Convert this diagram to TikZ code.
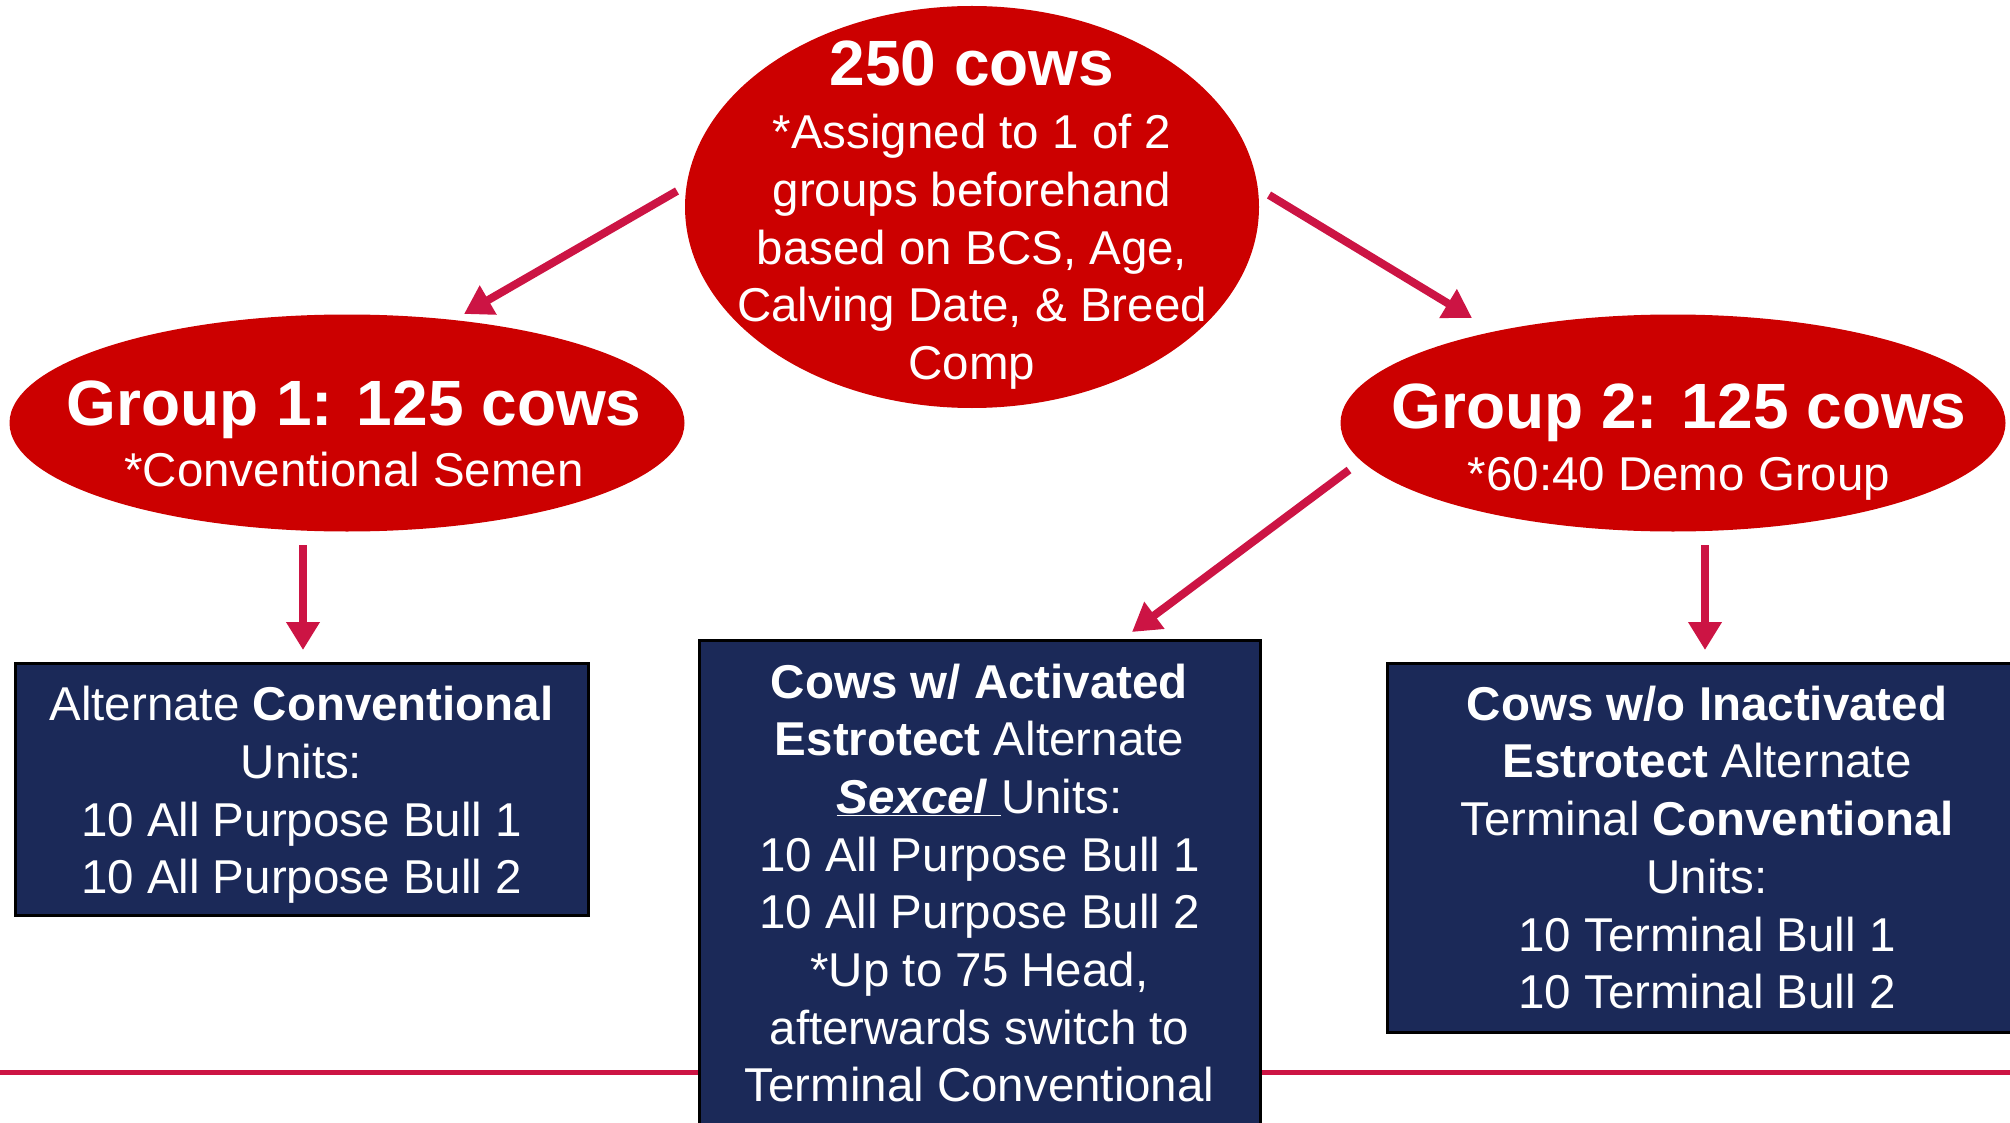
\documentclass[tikz,border=0pt]{standalone}
\usepackage{fontspec}
\setmainfont{Liberation Sans}
\usetikzlibrary{arrows.meta,shapes.geometric}
\definecolor{ovalred}{HTML}{CC0000}
\definecolor{arrowred}{HTML}{CC1444}
\definecolor{boxnavy}{HTML}{1B2958}
\newcommand{\bodyfont}{\fontsize{47.5}{57.7}\selectfont}
\newcommand{\headfont}{\bfseries\fontsize{64}{70}\selectfont}
\begin{document}
\begin{tikzpicture}[x=1pt,y=-1pt,
  oval/.style={ellipse, fill=ovalred, draw=none, inner sep=0pt},
  ovaltext/.style={text=white, align=center, inner sep=0pt, font=\bodyfont},
  unitbox/.style={rectangle, fill=boxnavy, draw=black, line width=3pt,
    text=white, align=center, inner sep=0pt, font=\bodyfont},
  flow/.style={draw=arrowred, line width=8pt,
    -{Triangle[width=32pt,length=28pt]}},
]
\clip (0,0) rectangle (2010,1123);

% base rule behind the middle box
\draw[arrowred, line width=5pt] (0,1072) -- (2010,1072);

% ovals
\node[oval, minimum width=574pt, minimum height=402pt] (herd) at (972,207) {};
\node[ovaltext] (herdtxt) at (972,215) {{\headfont 250 cows}\\[6pt]*Assigned to 1 of 2\\groups beforehand\\based on BCS, Age,\\Calving Date, \& Breed\\Comp};

\node[oval, minimum width=675pt, minimum height=217pt] (g1) at (347,423) {};
\node[ovaltext] (g1txt) at (354,434) {{\headfont Group 1: 125 cows}\\[4pt]*Conventional Semen};

\node[oval, minimum width=665pt, minimum height=217pt] (g2) at (1673,423) {};
\node[ovaltext] (g2txt) at (1679,442) {{\headfont Group 2: 125 cows}\\[4pt]*60:40 Demo Group};

% unit boxes
\node[unitbox, minimum width=573pt, minimum height=252pt] (conv) at (301.5,789) {};
\node[text=white, align=center, inner sep=0pt, font=\bodyfont] (convtxt) at (301.5,795)
  {Alternate \textbf{Conventional}\\Units:\\10 All Purpose Bull 1\\10 All Purpose Bull 2};

\node[unitbox, minimum width=561pt, minimum height=495pt] (sexcel) at (979.5,887.5) {};
\node[text=white, align=center, inner sep=0pt, font=\bodyfont] (sexceltxt) at (979.5,883)
  {\textbf{Cows w/ Activated}\\\textbf{Estrotect} Alternate\\\underline{\textbf{\textit{Sexcel}}\ }Units:\\10 All Purpose Bull 1\\10 All Purpose Bull 2\\*Up to 75 Head,\\afterwards switch to\\Terminal Conventional};

\node[unitbox, minimum width=640pt, minimum height=369pt] (term) at (1707,847.5)
  {\textbf{Cows w/o Inactivated}\\\textbf{Estrotect} Alternate\\Terminal \textbf{Conventional}\\Units:\\10 Terminal Bull 1\\10 Terminal Bull 2};

% connector end points
\coordinate (a1s) at (677,191);  \coordinate (a1e) at (464,314);
\coordinate (a2s) at (1269,195); \coordinate (a2e) at (1472,318);
\coordinate (a3s) at (303,545);  \coordinate (a3e) at (303,650);
\coordinate (a4s) at (1349,470); \coordinate (a4e) at (1132,632);
\coordinate (a5s) at (1705,545); \coordinate (a5e) at (1705,650);

\draw[flow] (a1s) -- (a1e);
\draw[flow] (a2s) -- (a2e);
\draw[flow] (a3s) -- (a3e);
\draw[flow] (a4s) -- (a4e);
\draw[flow] (a5s) -- (a5e);
\end{tikzpicture}
\end{document}
